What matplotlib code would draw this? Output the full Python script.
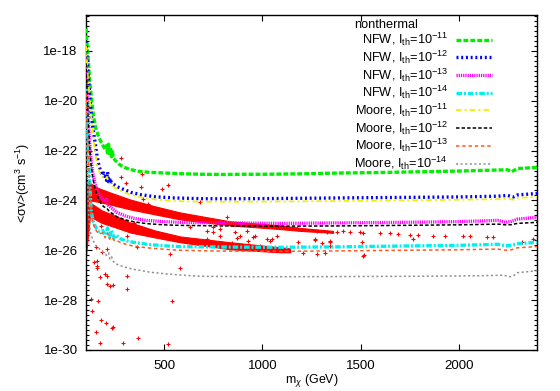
import numpy as np
import matplotlib

matplotlib.use("Agg")
import matplotlib.pyplot as plt
from matplotlib.ticker import FixedLocator, FuncFormatter, NullFormatter

plt.rcParams["font.family"] = ["Liberation Sans", "DejaVu Sans"]
plt.rcParams["font.size"] = 9
plt.rcParams["mathtext.fontset"] = "custom"
plt.rcParams["mathtext.rm"] = "Liberation Sans"
plt.rcParams["mathtext.it"] = "Liberation Sans:italic"
plt.rcParams["lines.scale_dashes"] = False

# ---- limit curves (mass in GeV, <sigma v> in cm^3 s^-1) ----
m_nfw11 = [100, 105, 110, 120, 130, 140, 150, 160, 170, 180, 190, 200, 205, 210, 215, 220,
           225, 230, 235, 240, 250, 270, 290, 320, 360, 420, 500, 600, 700, 800, 900, 1000,
           1200, 1400, 1600, 1800, 2000, 2200, 2250, 2270, 2300, 2400]
sv_nfw11 = [7.9e-18, 2.0e-18, 6.3e-19, 5.0e-20, 7.9e-21, 2.0e-21, 7.9e-22, 4.5e-22, 2.8e-22,
            2.0e-22, 1.4e-22, 1.1e-22, 1.6e-22, 7.1e-23, 1.8e-22, 6.3e-23, 1.3e-22, 5.6e-23,
            8.9e-23, 5.0e-23, 4.0e-23, 2.8e-23, 2.2e-23, 1.8e-23, 1.5e-23, 1.35e-23, 1.26e-23,
            1.17e-23, 1.12e-23, 1.10e-23, 1.12e-23, 1.12e-23, 1.17e-23, 1.26e-23, 1.32e-23,
            1.41e-23, 1.51e-23, 1.66e-23, 1.70e-23, 1.41e-23, 1.9e-23, 2.1e-23]

m_nfw12 = [100, 105, 110, 115, 120, 126, 135, 145, 156, 165, 175, 185, 190, 195, 200, 205,
           210, 215, 220, 225, 230, 240, 260, 290, 330, 380, 450, 550, 700, 900, 1100, 1400,
           1700, 2000, 2200, 2250, 2280, 2300, 2400]
sv_nfw12 = [2.5e-18, 5.0e-19, 1.6e-19, 4.0e-20, 1.26e-20, 3.2e-21, 7.9e-22, 2.5e-22, 6.3e-23,
            2.8e-23, 1.4e-23, 1.0e-23, 1.26e-23, 7.1e-24, 1.12e-23, 6.3e-24, 1.4e-23, 5.6e-24,
            7.9e-24, 5.0e-24, 5.6e-24, 4.5e-24, 3.5e-24, 2.8e-24, 2.1e-24, 1.7e-24, 1.41e-24,
            1.26e-24, 1.17e-24, 1.17e-24, 1.2e-24, 1.26e-24, 1.32e-24, 1.38e-24, 1.48e-24,
            1.58e-24, 1.38e-24, 1.66e-24, 1.9e-24]

m_nfw13 = [100, 104, 108, 112, 118, 125, 135, 145, 160, 175, 185, 195, 205, 215, 230, 258,
           300, 345, 411, 500, 580, 800, 1090, 1400, 1700, 2000, 2200, 2240, 2270, 2300, 2400]
sv_nfw13 = [5.0e-19, 6.3e-20, 1.0e-20, 1.6e-21, 2.5e-22, 5.0e-23, 1.26e-23, 5.0e-24, 2.2e-24,
            1.4e-24, 1.12e-24, 8.9e-25, 1.12e-24, 6.3e-25, 5.0e-25, 3.3e-25, 2.4e-25, 1.9e-25,
            1.58e-25, 1.41e-25, 1.32e-25, 1.26e-25, 1.2e-25, 1.26e-25, 1.32e-25, 1.41e-25,
            1.58e-25, 1.32e-25, 1.45e-25, 1.78e-25, 2.1e-25]

m_nfw14 = [100, 105, 110, 115, 120, 126, 135, 145, 156, 170, 185, 197, 210, 220, 230, 243,
           255, 279, 300, 325, 360, 411, 500, 580, 800, 1090, 1400, 1700, 2000, 2200, 2240,
           2270, 2300, 2400]
sv_nfw14 = [3.2e-20, 2.5e-21, 2.5e-22, 2.5e-23, 3.2e-24, 4.0e-25, 1.58e-25, 1.0e-25, 7.1e-26,
            5.6e-26, 6.3e-26, 4.0e-26, 7.9e-26, 3.5e-26, 6.3e-26, 3.2e-26, 4.0e-26, 2.8e-26,
            2.5e-26, 2.2e-26, 2.0e-26, 1.74e-26, 1.51e-26, 1.41e-26, 1.35e-26, 1.32e-26,
            1.38e-26, 1.48e-26, 1.58e-26, 1.74e-26, 1.51e-26, 1.58e-26, 1.82e-26, 2.1e-26]

m_moore11 = [100, 105, 110, 120, 130, 140, 156, 170, 185, 200, 207, 215, 225, 240, 260, 290,
             330, 380, 450, 550, 700, 900, 1100, 1400, 1700, 2000, 2200, 2250, 2280, 2300, 2400]
sv_moore11 = [1.6e-18, 3.2e-19, 7.9e-20, 1.0e-20, 1.26e-21, 2.5e-22, 2.5e-23, 1.26e-23,
              8.9e-24, 7.1e-24, 8.9e-24, 5.0e-24, 4.5e-24, 3.5e-24, 2.8e-24, 2.2e-24,
              1.66e-24, 1.32e-24, 1.1e-24, 9.5e-25, 8.9e-25, 8.9e-25, 9.1e-25, 9.5e-25,
              1.0e-24, 1.07e-24, 1.12e-24, 1.2e-24, 1.07e-24, 1.26e-24, 1.41e-24]

m_moore12 = [100, 104, 108, 112, 118, 125, 135, 145, 160, 175, 190, 205, 220, 240, 258, 300,
             345, 411, 500, 580, 800, 1090, 1400, 1700, 2000, 2200, 2240, 2270, 2300, 2400]
sv_moore12 = [3.2e-19, 4.0e-20, 6.3e-21, 1.0e-21, 1.6e-22, 3.2e-23, 7.9e-24, 3.2e-24, 1.41e-24,
              7.9e-25, 5.6e-25, 5.0e-25, 3.5e-25, 2.8e-25, 2.2e-25, 1.66e-25, 1.38e-25,
              1.17e-25, 1.05e-25, 1.0e-25, 9.5e-26, 9.3e-26, 9.5e-26, 1.0e-25, 1.05e-25,
              1.12e-25, 1.05e-25, 1.07e-25, 1.2e-25, 1.32e-25]

m_moore13 = [100, 105, 110, 115, 120, 126, 135, 145, 156, 170, 185, 197, 210, 220, 230, 243,
             255, 279, 300, 325, 360, 411, 500, 580, 800, 1090, 1400, 1700, 2000, 2200, 2240,
             2270, 2300, 2400]
sv_moore13 = [2.0e-20, 1.6e-21, 1.6e-22, 1.6e-23, 2.0e-24, 3.2e-25, 1.26e-25, 7.9e-26,
              5.6e-26, 4.5e-26, 5.0e-26, 3.2e-26, 5.0e-26, 2.8e-26, 3.5e-26, 2.5e-26, 2.5e-26,
              2.0e-26, 1.78e-26, 1.58e-26, 1.41e-26, 1.26e-26, 1.1e-26, 1.0e-26, 9.3e-27,
              9.1e-27, 9.5e-27, 1.0e-26, 1.05e-26, 1.12e-26, 1.0e-26, 1.05e-26, 1.26e-26,
              1.41e-26]

m_moore14 = [100, 104, 108, 112, 118, 125, 136, 150, 171, 190, 205, 215, 222, 230, 240, 258,
             290, 340, 427, 500, 595, 682, 900, 1200, 1500, 1800, 2100, 2230, 2260, 2280,
             2300, 2400]
sv_moore14 = [3.2e-21, 1.0e-22, 5.0e-24, 5.0e-25, 1.0e-25, 4.5e-26, 2.5e-26, 1.58e-26,
              1.1e-26, 7.9e-27, 6.3e-27, 7.9e-27, 4.5e-27, 5.6e-27, 3.5e-27, 2.75e-27,
              2.2e-27, 1.74e-27, 1.32e-27, 1.15e-27, 1.0e-27, 9.1e-28, 8.7e-28, 8.7e-28,
              8.9e-28, 9.1e-28, 9.5e-28, 1.0e-27, 8.7e-28, 9.5e-28, 1.26e-27, 1.51e-27]

# ---- nonthermal scan points: two dense bands (edges) plus scattered points ----
band1_m = [100, 120, 160, 222, 324, 452, 580, 835, 1090, 1192, 1360]
band1_hi = [6.3e-24, 5.0e-24, 3.2e-24, 2.1e-24, 1.1e-24, 5.8e-25, 3.3e-25, 1.45e-25, 1.0e-25,
            7.9e-26, 6.0e-26]
band1_lo = [6.3e-25, 1.0e-24, 8.9e-25, 6.9e-25, 4.4e-25, 2.75e-25, 1.74e-25, 1.0e-25, 7.1e-26,
            6.0e-26, 5.0e-26]

band2_m = [100, 120, 180, 250, 324, 450, 580, 835, 1090, 1141]
band2_hi = [1.0e-24, 8.3e-25, 4.0e-25, 2.4e-25, 1.32e-25, 6.3e-26, 3.6e-26, 2.1e-26, 1.32e-26,
            1.2e-26]
band2_lo = [6.3e-27, 2.3e-25, 1.26e-25, 8.3e-26, 5.2e-26, 3.3e-26, 2.1e-26, 1.1e-26, 8.3e-27,
            8.3e-27]

scat_m = [279, 386, 488, 529, 416, 682, 819, 1039, 1074, 1182, 1268, 1319, 1345, 1345, 1508,
          1518, 1411, 1498, 1600, 1651, 1692, 1753, 1794, 1768, 1870, 1932, 2023, 2059, 2146,
          2177, 2381, 2325, 1176, 1279, 1330, 1381, 1447, 1513, 962, 1049, 1268, 1304, 1345,
          1207, 1279, 1513, 207, 222, 238, 126, 161, 131, 177, 202, 233, 238, 151, 171, 156,
          171, 207, 309, 289, 365, 518, 539, 580, 529, 197, 309, 177, 151, 182, 207, 156, 345,
          370, 309, 360, 381, 304, 279, 141, 156, 529, 391, 631, 748, 784, 886, 921, 952, 1023,
          518, 717, 784, 845, 870, 901, 927, 988, 860, 748, 717]
scat_sv = [5.2e-23, 1.1e-23, 2.75e-24, 2.75e-25, 6.9e-25, 8.3e-25, 2.1e-25, 2.3e-26, 3.6e-26,
           2.1e-26, 2.75e-26, 7.6e-27, 2.1e-26, 1.45e-26, 2.1e-26, 6.3e-27, 5.8e-26, 5.2e-26,
           4.8e-26, 4.8e-26, 4.4e-26, 4.0e-26, 4.0e-26, 2.75e-26, 3.6e-26, 3.6e-26, 3.6e-26,
           3.6e-26, 3.3e-26, 3.3e-26, 2.75e-26, 2.1e-26, 7.6e-26, 5.8e-26, 5.2e-26, 5.2e-26,
           5.2e-26, 4.8e-26, 3.6e-26, 2.75e-26, 2.5e-26, 1.9e-26, 2.3e-26, 7.6e-27, 6.9e-27,
           5.8e-27, 4.4e-28, 3.6e-28, 4.0e-28, 1.1e-28, 9.1e-29, 3.6e-29, 1.6e-29, 1.2e-29,
           7.6e-30, 8.3e-30, 5.2e-30, 1.9e-30, 2.3e-27, 8.3e-28, 9.1e-28, 2.75e-28, 1.9e-30,
           3.0e-30, 1.74e-30, 9.1e-29, 1.9e-27, 6.9e-27, 1.1e-27, 9.1e-28, 9.1e-26, 1.32e-26,
           8.3e-27, 1.1e-26, 3.6e-27, 1.3e-25, 6.9e-26, 3.6e-26, 1.32e-26, 3.6e-24, 5.2e-24,
           9.1e-24, 3.3e-27, 1.9e-27, 2.75e-25, 1.1e-24, 8.3e-26, 5.2e-26, 6.9e-26, 3.6e-26,
           5.8e-26, 3.3e-26, 2.75e-26, 4.0e-24, 2.75e-26, 3.6e-26, 1.9e-26, 3.0e-26, 1.45e-26,
           2.3e-26, 1.45e-26, 5.2e-26, 8.3e-26, 5.8e-26]

curves = [
    (m_nfw11, sv_nfw11, "NFW", "-11", "#00ee00", 2.4, (3.5, 1.5)),
    (m_nfw12, sv_nfw12, "NFW", "-12", "#0000ff", 2.4, (1.4, 2.0)),
    (m_nfw13, sv_nfw13, "NFW", "-13", "#ff00ff", 2.4, (0.9, 0.7)),
    (m_nfw14, sv_nfw14, "NFW", "-14", "#00f0f0", 2.4, (4.0, 1.4, 1.4, 1.4)),
    (m_moore11, sv_moore11, "Moore", "-11", "#f0f000", 1.3, (4.0, 2.2, 1.5, 2.2)),
    (m_moore12, sv_moore12, "Moore", "-12", "#000000", 1.1, (2.5, 1.5)),
    (m_moore13, sv_moore13, "Moore", "-13", "#ff5a1e", 1.1, (2.5, 2.0)),
    (m_moore14, sv_moore14, "Moore", "-14", "#909090", 1.1, (1.5, 1.8)),
]

fig = plt.figure(figsize=(5.6, 3.91), dpi=100)
ax = fig.add_axes([86 / 560, 1 - 350 / 391, 451 / 560, 335 / 391])

# red scan points
ax.fill_between(band1_m, band1_lo, band1_hi, color="#ff0000", lw=0.8, zorder=2)
ax.fill_between(band2_m, band2_lo, band2_hi, color="#ff0000", lw=0.8, zorder=2)
ax.plot(scat_m, scat_sv, "+", color="#ff0000", ms=3.2, mew=0.8, zorder=2)

handles = []
for m, sv, prof, exp, col, lw, dash in curves:
    (ln,) = ax.plot(m, sv, color=col, lw=lw, dashes=dash, zorder=3,
                    label=r"%s, I$_{\rm th}$=10$^{%s}$" % (prof, exp))
    handles.append(ln)

ax.set_yscale("log")
ax.set_xlim(100, 2400)
ax.set_ylim(1e-30, 2.75e-17)

ax.set_xticks([500, 1000, 1500, 2000])
ax.yaxis.set_major_locator(FixedLocator([10.0 ** k for k in range(-30, -17, 2)]))
ax.yaxis.set_major_formatter(FuncFormatter(lambda v, _: "1e%d" % round(np.log10(v))))
ax.yaxis.set_minor_locator(FixedLocator(10.0 ** np.arange(-30, -16.5, 0.2)))
ax.yaxis.set_minor_formatter(NullFormatter())
ax.tick_params(axis="both", which="both", direction="in", top=True, right=True, width=0.8)
ax.tick_params(axis="both", which="major", length=4.5, labelsize=9.5)
ax.tick_params(axis="y", which="major", pad=6)
ax.tick_params(axis="x", which="major", pad=7)
ax.tick_params(axis="y", which="minor", length=2.2)
for s in ax.spines.values():
    s.set_linewidth(1.0)

ax.set_xlabel(r"m$_{\chi}$ (GeV)", labelpad=0.5)
ax.set_ylabel(r"<σv>(cm$^3$ s$^{-1}$)", labelpad=8)

leg = ax.legend(handles=handles, title="nonthermal", loc="upper right",
                bbox_to_anchor=(0.917, 1.012), frameon=False, markerfirst=False,
                handlelength=2.8, handletextpad=0.65, borderpad=0.1, labelspacing=0.03,
                fontsize=9.2, title_fontsize=9.2, alignment="left")

fig.savefig("out.png", dpi=100)
